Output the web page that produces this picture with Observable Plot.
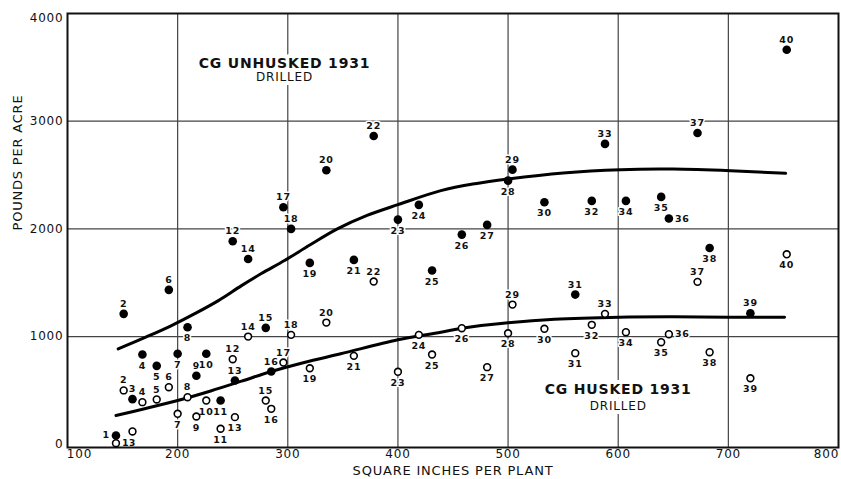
<!DOCTYPE html>
<html><head><meta charset="utf-8">
<script src="https://cdn.jsdelivr.net/npm/d3@7"></script>
<script src="https://cdn.jsdelivr.net/npm/@observablehq/plot@0.6"></script>
<style>body{margin:0;background:#fff}</style>
</head><body><div id="chart"></div>
<script>
const plotIds = [1,2,3,4,5,6,7,8,9,10,11,12,13,14,15,16,17,18,19,20,21,22,23,24,25,26,27,28,29,30,31,32,33,34,35,36,37,38,39,40];
const spacing = [144,151,159,168,181,192,200,209,217,226,239,250,252,264,280,285,296,303,320,335,360,378,400,419,431,458,481,500,504,533,561,576,588,607,639,646,672,683,720,753];
const unhuskedYield = [82,1211,419,833,728,1434,840,1087,636,840,406,1885,592,1721,1081,676,2201,2000,1684,2544,1712,2863,2086,2223,1613,1947,2037,2448,2550,2247,1390,2260,2789,2260,2297,2096,2891,1823,1217,3664];
const huskedYield = [10,500,119,391,416,530,283,437,258,406,144,790,252,1000,406,329,759,1016,706,1130,821,1511,673,1016,833,1078,716,1031,1297,1072,846,1109,1211,1041,948,1022,1508,855,613,1764];
const unhuskedLabelSide = "l t t b b t b b t b b t t t t t t t b t b t b b b b b b t b t b t b b r t b t t".split(" ");
const huskedLabelSide = "r t b t t t b t b b b t b t t b t t b t b t b b b b b b t b b b t b b r t b b b".split(" ");
const unhuskedCurveX = [146,170,194,216,237,258,276,297,320,345,372,400,439,470,500,550,602,650,702,752];
const unhuskedCurveY = [886,990,1100,1215,1334,1473,1585,1706,1850,2000,2125,2225,2355,2420,2464,2520,2550,2555,2540,2516];
const huskedCurveX = [144,170,200,230,258,285,315,348,400,439,458,500,542,601,650,700,751];
const huskedCurveY = [267,330,406,495,586,676,760,840,970,1040,1078,1128,1161,1180,1183,1180,1180];
const xTicks = [100,200,300,400,500,600,700,800];
const yTicks = [0,1000,2000,3000,4000];
const xTitle = "SQUARE INCHES PER PLANT";
const yTitle = "POUNDS PER ACRE";
const annoUnhusked = {title: "CG UNHUSKED 1931", sub: "DRILLED", x: 297, y: 3536, ySub: 3406};
const annoHusked = {title: "CG HUSKED 1931", sub: "DRILLED", x: 600, y: 509, ySub: 351};

const unhusked = plotIds.map((id, i) => ({id, x: spacing[i], y: unhuskedYield[i], side: unhuskedLabelSide[i]}));
const husked = plotIds.map((id, i) => ({id, x: spacing[i], y: huskedYield[i], side: huskedLabelSide[i]}));
const uCurve = unhuskedCurveX.map((x, i) => ({x, y: unhuskedCurveY[i]}));
const hCurve = huskedCurveX.map((x, i) => ({x, y: huskedCurveY[i]}));

const labelStyle = {x: "x", y: "y", text: "id", fontSize: 9.5, fontWeight: "bold", fill: "#111", stroke: "white", strokeWidth: 3};
function labels(data) {
  return [
    Plot.text(data, {...labelStyle, filter: d => d.side === "t", dy: -10}),
    Plot.text(data, {...labelStyle, filter: d => d.side === "b", dy: 11}),
    Plot.text(data, {...labelStyle, filter: d => d.side === "l", dx: -6, textAnchor: "end"}),
    Plot.text(data, {...labelStyle, filter: d => d.side === "r", dx: 6, textAnchor: "start"})
  ];
}

const tickStyle = {tickSize: 0, fontSize: 12, label: null, fill: "#111", tickFormat: d => String(d)};

const chart = Plot.plot({
  width: 841, height: 479,
  marginLeft: 67, marginRight: 3, marginTop: 13, marginBottom: 32,
  style: {fontFamily: "DejaVu Sans", background: "white", color: "#111", letterSpacing: "0.8px"},
  x: {domain: [100, 800]},
  y: {domain: [-30, 4000]},
  marks: [
    Plot.ruleX(xTicks.slice(1, -1), {stroke: "#444", strokeWidth: 1.2}),
    Plot.ruleY(yTicks.slice(1, -1), {stroke: "#444", strokeWidth: 1.2}),
    Plot.axisX(xTicks.slice(1, -1), {...tickStyle, tickPadding: 2}),
    Plot.axisX([xTicks[0]], {...tickStyle, tickPadding: 2, dx: 12}),
    Plot.axisX([xTicks[xTicks.length - 1]], {...tickStyle, tickPadding: 2, dx: -12}),
    Plot.axisY(yTicks.slice(0, -1), {...tickStyle, tickPadding: 4}),
    Plot.axisY([yTicks[yTicks.length - 1]], {...tickStyle, tickPadding: 4, dy: 5}),
    Plot.text([xTitle], {frameAnchor: "bottom", dy: 27, fontSize: 13, fill: "#111"}),
    Plot.text([yTitle], {frameAnchor: "left", dx: -50, rotate: -90, fontSize: 13, fill: "#111"}),
    Plot.text([annoUnhusked], {x: "x", y: "y", text: "title", fontSize: 14, fontWeight: "bold", fill: "#111", stroke: "white", strokeWidth: 8}),
    Plot.text([annoUnhusked], {x: "x", y: "ySub", text: "sub", fontSize: 12, fill: "#111", stroke: "white", strokeWidth: 8}),
    Plot.text([annoHusked], {x: "x", y: "y", text: "title", fontSize: 14, fontWeight: "bold", fill: "#111", stroke: "white", strokeWidth: 8}),
    Plot.text([annoHusked], {x: "x", y: "ySub", text: "sub", fontSize: 12, fill: "#111", stroke: "white", strokeWidth: 8}),
    ...labels(unhusked),
    ...labels(husked),
    Plot.frame({stroke: "#111", strokeWidth: 2}),
    Plot.line(uCurve, {x: "x", y: "y", curve: "catmull-rom", stroke: "#000", strokeWidth: 3}),
    Plot.line(hCurve, {x: "x", y: "y", curve: "catmull-rom", stroke: "#000", strokeWidth: 3}),
    Plot.dot(husked, {x: "x", y: "y", r: 3.4, fill: "white", stroke: "#000", strokeWidth: 1.6}),
    Plot.dot(unhusked, {x: "x", y: "y", r: 4.3, fill: "#000", stroke: "none"})
  ]
});
document.getElementById("chart").appendChild(chart);
</script>
</body></html>
